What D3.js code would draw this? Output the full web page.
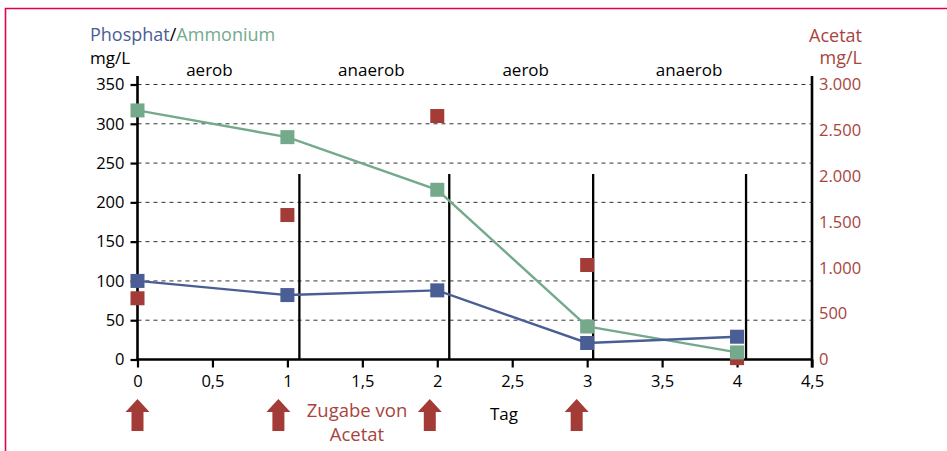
<!DOCTYPE html>
<html><head><meta charset="utf-8">
<script src="https://cdn.jsdelivr.net/npm/d3@7"></script>
<style>
body{margin:0;background:#fff;}
svg text{font-family:"Open Sans","Noto Sans",sans-serif;}
</style></head>
<body><svg id="c" width="947" height="451"></svg>
<script>
const days = [0, 1, 2, 3, 4];
const phosphat = [100, 82, 88, 21, 29];
const ammonium = [317, 283, 216, 42, 9];
const acetat = [668, 1576, 2656, 1031, 15];
const xTicks = [0, 0.5, 1, 1.5, 2, 2.5, 3, 3.5, 4, 4.5];
const yTicks = [0, 50, 100, 150, 200, 250, 300, 350];
const y2Ticks = [0, 500, 1000, 1500, 2000, 2500, 3000];
const phaseBounds = [1.08, 2.08, 3.04, 4.06];
const phaseLabels = ["aerob", "anaerob", "aerob", "anaerob"];
const phaseLabelX = [0.48, 1.56, 2.59, 3.68];
const arrowDays = [0, 0.94, 1.95, 2.93];

const C_BLUE = "#4a5e95", C_GREEN = "#74aa8b", C_RED = "#a33b36", C_TXTRED = "#a8443e";
const svg = d3.select("#c");
const x = d3.scaleLinear().domain([0, 4.5]).range([137.5, 812]);
const y = d3.scaleLinear().domain([0, 350]).range([359.5, 84.5]);
const y2 = d3.scaleLinear().domain([0, 3000]).range([359.5, 84.5]);
const fmtDE = d3.formatLocale({decimal: ",", thousands: ".", grouping: [3], currency: ["", "€"]});
const fx = v => fmtDE.format(",")(v);

// frame
svg.append("path").attr("d", "M5.5,451 V8.5 H947").attr("fill", "none").attr("stroke", "#e5004e").attr("stroke-width", 1.6);

// gridlines
svg.append("g").selectAll("line").data(yTicks.filter(d => d > 0)).join("line")
  .attr("x1", x(0)).attr("x2", x(4.5)).attr("y1", d => y(d)).attr("y2", d => y(d))
  .attr("stroke", "#333").attr("stroke-width", 1).attr("stroke-dasharray", "4,4");

// phase separators
svg.append("g").selectAll("line").data(phaseBounds).join("line")
  .attr("x1", d => x(d)).attr("x2", d => x(d)).attr("y1", 174).attr("y2", y(0))
  .attr("stroke", "#000").attr("stroke-width", 2.3);

// phase labels
svg.append("g").selectAll("text").data(phaseLabels).join("text")
  .attr("x", (d, i) => x(phaseLabelX[i])).attr("y", 76).attr("text-anchor", "middle")
  .attr("font-size", 17).attr("fill", "#000").text(d => d);

// axes
const xAxis = d3.axisBottom(x).tickValues(xTicks).tickFormat(fx).tickSize(8).tickPadding(8);
const gx = svg.append("g").attr("transform", `translate(0,${y(0)})`).call(xAxis);
const yAxis = d3.axisLeft(y).tickValues(yTicks).tickSize(7).tickPadding(6);
const gy = svg.append("g").attr("transform", `translate(${x(0)},0)`).call(yAxis);
const y2Axis = d3.axisRight(y2).tickValues(y2Ticks).tickFormat(fx).tickSize(0).tickPadding(7);
const gy2 = svg.append("g").attr("transform", `translate(${x(4.5)},0)`).call(y2Axis);
[gx, gy, gy2].forEach(g => {
  g.select(".domain").remove();
  g.selectAll(".tick line").attr("stroke", "#000").attr("stroke-width", 2.2);
  g.selectAll(".tick text").attr("font-size", 16.5).attr("font-family", "'Open Sans','Noto Sans',sans-serif").attr("fill", "#000");
});
gy2.selectAll(".tick text").attr("fill", C_TXTRED);
// axis lines
svg.append("line").attr("x1", x(0)).attr("x2", x(0)).attr("y1", 76).attr("y2", y(0)+1).attr("stroke", "#000").attr("stroke-width", 2.6);
svg.append("line").attr("x1", x(4.5)).attr("x2", x(4.5)).attr("y1", 76).attr("y2", y(0)+8).attr("stroke", "#000").attr("stroke-width", 2.6);
svg.append("line").attr("x1", x(0)-1).attr("x2", x(4.5)+1).attr("y1", y(0)).attr("y2", y(0)).attr("stroke", "#000").attr("stroke-width", 2.6);

// lines
const lineP = d3.line().x((d, i) => x(days[i])).y(d => y(d));
svg.append("path").datum(ammonium).attr("d", lineP).attr("fill", "none").attr("stroke", C_GREEN).attr("stroke-width", 2.4);
svg.append("path").datum(phosphat).attr("d", lineP).attr("fill", "none").attr("stroke", C_BLUE).attr("stroke-width", 2.4);

const S = 14;
svg.append("g").selectAll("rect").data(acetat).join("rect")
  .attr("x", (d, i) => x(days[i]) - S/2).attr("y", d => y2(d) - S/2).attr("width", S).attr("height", S).attr("fill", C_RED);
svg.append("g").selectAll("rect").data(ammonium).join("rect")
  .attr("x", (d, i) => x(days[i]) - S/2).attr("y", d => y(d) - S/2).attr("width", S).attr("height", S).attr("fill", C_GREEN);
svg.append("g").selectAll("rect").data(phosphat).join("rect")
  .attr("x", (d, i) => x(days[i]) - S/2).attr("y", d => y(d) - S/2).attr("width", S).attr("height", S).attr("fill", C_BLUE);

// titles
const t1 = svg.append("text").attr("x", 90).attr("y", 41).attr("font-size", 18);
t1.append("tspan").attr("fill", C_BLUE).text("Phosphat");
t1.append("tspan").attr("fill", "#000").text("/");
t1.append("tspan").attr("fill", C_GREEN).text("Ammonium");
svg.append("text").attr("x", 90).attr("y", 64).attr("font-size", 17).attr("fill", "#000").text("mg/L");
svg.append("text").attr("x", 862).attr("y", 42).attr("font-size", 18).attr("text-anchor", "end").attr("fill", C_TXTRED).text("Acetat");
svg.append("text").attr("x", 862).attr("y", 64).attr("font-size", 18).attr("text-anchor", "end").attr("fill", C_TXTRED).text("mg/L");
svg.append("text").attr("x", 504).attr("y", 420).attr("font-size", 17).attr("text-anchor", "middle").attr("fill", "#000").text("Tag");

// arrows
svg.append("g").selectAll("path").data(arrowDays).join("path")
  .attr("d", d => { const cx = x(d); return `M${cx},399 L${cx+12},412 L${cx+6},412 L${cx+6},431 L${cx-6},431 L${cx-6},412 L${cx-12},412 Z`; })
  .attr("fill", C_RED);
svg.append("text").attr("x", 357).attr("y", 417).attr("font-size", 18.5).attr("text-anchor", "middle").attr("fill", C_TXTRED).text("Zugabe von");
svg.append("text").attr("x", 357).attr("y", 441).attr("font-size", 18.5).attr("text-anchor", "middle").attr("fill", C_TXTRED).text("Acetat");
</script></body></html>
